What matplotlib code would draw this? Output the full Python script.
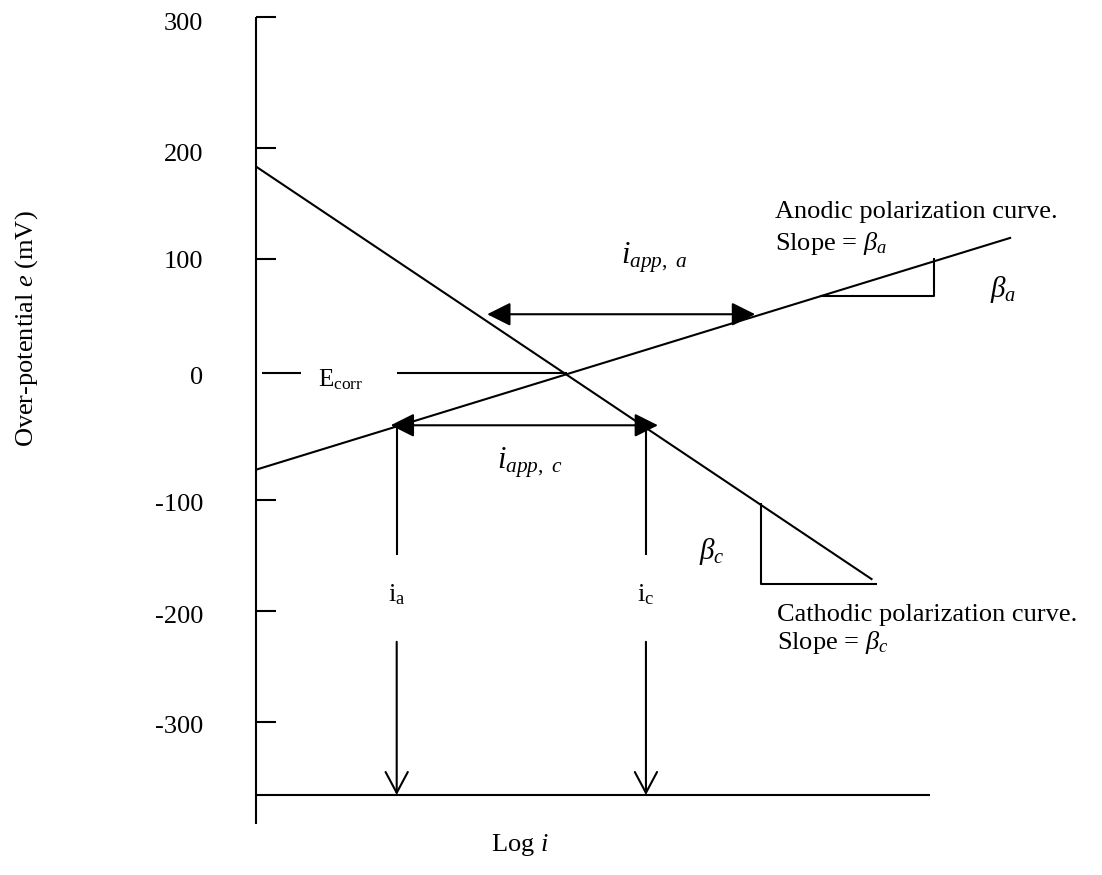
import matplotlib
matplotlib.use('Agg')
import matplotlib.pyplot as plt

plt.rcParams['font.family'] = ['Liberation Serif', 'DejaVu Serif']
plt.rcParams['mathtext.fontset'] = 'custom'
plt.rcParams['mathtext.rm'] = 'Liberation Serif'
plt.rcParams['mathtext.it'] = 'Liberation Serif:italic'

# schematic units: x = log i (arbitrary), y = over-potential in mV
cathodic_x = [0.0, 9.2]
cathodic_y = [186, -186]
anodic_x = [0.0, 11.27]
anodic_y = [-87, 122]
e_corr = 0
x_corr = 4.64

tick_vals = [321, 203, 103, -114, -214, -314]
tick_text = ['300', '200', '100', '0', '-100', '-200', '-300']
tick_text_y = [314, 196, 100, -4, -119, -220, -319]

i_app_a_y, i_app_a_x = 53, [3.45, 7.45]
i_app_c_y, i_app_c_x = -47, [2.01, 6.0]
i_a_x, i_c_x = 2.10, 5.82
drop_top, drop_gap = [-164, -242], -380   # segments of the vertical drops
drop_label_y = -200

tri_a_x, tri_a_y = [8.42, 10.12, 10.12], [69.4, 69.4, 103.6]
tri_c_x, tri_c_y = [7.54, 7.54, 9.27], [-117, -190, -190]

axis_top, axis_bottom = 321, -406
base_y, base_x_end = -380, 10.06

fig = plt.figure(figsize=(11.02, 8.75), dpi=100)
ax = fig.add_axes([0, 0, 1, 1])
ax.set_xlim(-256 / 67, 846 / 67)
ax.set_ylim(-452, 336)
ax.axis('off')

lw = 1.5
fs = 19
k = dict(color='black', lw=lw, solid_capstyle='butt')

# axes drawn by hand (schematic style)
ax.plot([0, 0], [axis_top, axis_bottom], **k)
ax.plot([0, base_x_end], [base_y, base_y], **k)
for t in tick_vals:
    ax.plot([0, 0.3], [t, t], **k)
for lab, y in zip(tick_text, tick_text_y):
    ax.text(-0.79, y, lab, ha='right', va='center', fontsize=fs)

# polarization lines
ax.plot(cathodic_x, cathodic_y, **k)
ax.plot(anodic_x, anodic_y, **k)

# E_corr line
ax.plot([0.09, 0.67], [e_corr, e_corr], **k)
ax.plot([2.10, x_corr], [e_corr, e_corr], **k)
ax.text(1.27, e_corr - 6, r'E$_{\rm corr}$', ha='center', va='center', fontsize=18)

# applied current arrows
fill = dict(arrowstyle='<|-|>,head_length=0.72,head_width=0.36', mutation_scale=20,
            color='black', lw=lw, shrinkA=0, shrinkB=0)
ax.annotate('', xy=(i_app_a_x[1], i_app_a_y), xytext=(i_app_a_x[0], i_app_a_y), arrowprops=fill)
ax.annotate('', xy=(i_app_c_x[1], i_app_c_y), xytext=(i_app_c_x[0], i_app_c_y), arrowprops=fill)
ax.text(5.45, 104, r'$i_{app,\ a}$', ha='left', va='center', fontsize=22)
ax.text(3.6, -81, r'$i_{app,\ c}$', ha='left', va='center', fontsize=22)

# vertical drops to the log i axis
opn = dict(arrowstyle='->,head_length=0.75,head_width=0.4', mutation_scale=20,
           color='black', lw=lw, shrinkA=0, shrinkB=0)
for x, lab in [(i_a_x, r'i$_{\rm a}$'), (i_c_x, r'i$_{\rm c}$')]:
    ax.plot([x, x], [i_app_c_y, drop_top[0]], **k)
    ax.annotate('', xy=(x, drop_gap), xytext=(x, drop_top[1]), arrowprops=opn)
    ax.text(x, drop_label_y, lab, ha='center', va='center', fontsize=fs)

# slope triangles
ax.plot(tri_a_x, tri_a_y, **k)
ax.plot(tri_c_x, tri_c_y, **k)
ax.text(11.15, 75, r'$\beta_a$', ha='center', va='center', fontsize=21)
ax.text(6.8, -161, r'$\beta_c$', ha='center', va='center', fontsize=21)

ax.text(7.75, 145, 'Anodic polarization curve.', ha='left', va='center', fontsize=fs)
ax.text(7.75, 117, r'Slope = $\beta_a$', ha='left', va='center', fontsize=fs)
ax.text(7.78, -218, 'Cathodic polarization curve.', ha='left', va='center', fontsize=fs)
ax.text(7.78, -243, r'Slope = $\beta_c$', ha='left', va='center', fontsize=fs)

ax.text(-3.42, 40, r'Over-potential $e$ (mV)', rotation=90, ha='center', va='center', fontsize=fs)
ax.text(3.94, -425, r'Log $i$', ha='center', va='center', fontsize=fs)

fig.savefig('out.png', dpi=100)
